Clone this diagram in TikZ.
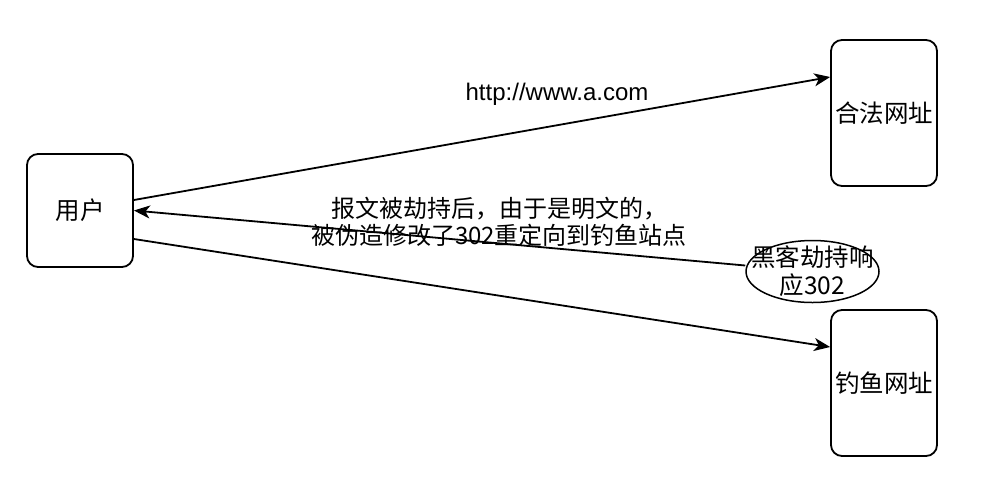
\documentclass[tikz,border=0pt]{standalone}
\usepackage{fontspec}
\setmainfont{Liberation Sans}
\newfontfamily\cjk{Noto Sans CJK SC}
\usetikzlibrary{arrows.meta,shapes.geometric}
\tikzset{
  cjkfont/.style={font=\cjk\fontsize{24.5}{28}\selectfont},
  boxnode/.style={draw, line width=1.8pt, rounded corners=11pt, inner sep=0pt, cjkfont, align=center},
  ellnode/.style={draw, line width=1.5pt, ellipse, inner sep=0pt, minimum width=133pt, minimum height=62pt},
  lbl/.style={inner sep=0pt, align=center},
  conn/.style={line width=1.8pt, -{Stealth[length=16pt,width=13pt,inset=4.5pt]}}
}
\begin{document}
\begin{tikzpicture}[x=1pt,y=-1pt]
\useasboundingbox[fill=white] (0,0) rectangle (981,482);
\node[boxnode, minimum width=106pt, minimum height=113pt] (user) at (80,210.5) {用户};
\node[boxnode, minimum width=106pt, minimum height=146pt] (legit) at (884,113) {合法网址};
\node[boxnode, minimum width=106pt, minimum height=146pt] (phish) at (884,383) {钓鱼网址};
\node[ellnode, label={[lbl, cjkfont]center:黑客劫持响\\应302}] (hacker) at (812.5,271.5) {};
\draw[conn] ([yshift=10.5pt]user.east) -- ([yshift=36pt]legit.west);
\draw[conn] ([yshift=6pt]hacker.west) -- (user.east);
\draw[conn] ([yshift=-28.5pt]user.east) -- ([yshift=36pt]phish.west);
\node[lbl, font=\fontsize{24}{28}\selectfont] (l1) at (557,94) {http://www.a.com};
\node[lbl, font=\cjk\fontsize{24}{27.5}\selectfont] (l2) at (499,222) {报文被劫持后，由于是明文的，\\被伪造修改了302重定向到钓鱼站点};
\end{tikzpicture}
\end{document}
